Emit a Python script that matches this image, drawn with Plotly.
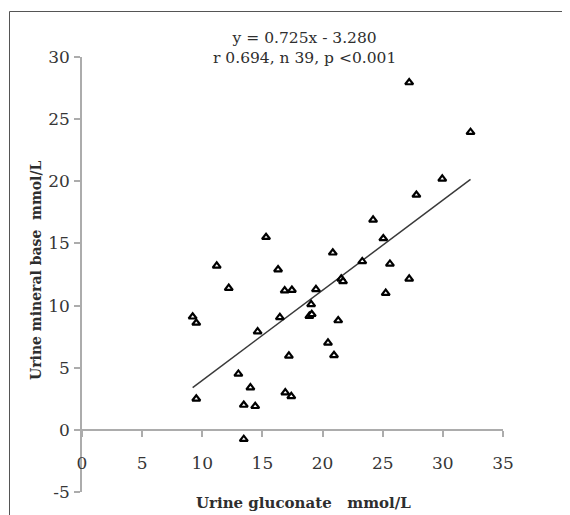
import plotly.graph_objects as go

# Data
gluconate = [9.2, 9.5, 9.5, 11.2, 12.2, 13.0, 13.45, 13.45, 14.0, 14.4,
             14.6, 15.3, 16.3, 16.45, 16.85, 16.9, 17.2, 17.4, 17.45, 18.9,
             19.05, 19.1, 19.45, 20.45, 20.85, 20.95, 21.3, 21.55, 21.7, 23.3,
             24.2, 25.05, 25.25, 25.6, 27.2, 27.2, 27.8, 29.95, 32.3]
mineral_base = [9.1, 8.6, 2.5, 13.2, 11.4, 4.5, 2.0, -0.75, 3.4, 1.9,
                7.9, 15.5, 12.9, 9.05, 11.2, 3.0, 5.95, 2.7, 11.25, 9.15,
                10.1, 9.3, 11.3, 7.0, 14.25, 6.0, 8.8, 12.15, 11.95, 13.55,
                16.9, 15.4, 11.0, 13.35, 12.15, 27.95, 18.9, 20.2, 23.95]
fit_x = [9.2, 32.3]
fit_y = [3.4, 20.15]
x_ticks = [0, 5, 10, 15, 20, 25, 30, 35]
x_tick_labels = ["0", "5", "10", "15", "20", "25", "30", "35"]
y_ticks = [-5, 0, 5, 10, 15, 20, 25, 30]
y_tick_labels = ["-5", "0", "5", "10", "15", "20", "25", "30"]
equation_text = "y = 0.725x - 3.280<br>r 0.694, n 39, p <0.001"
x_title = "Urine gluconate   mmol/L"
y_title = "Urine mineral base  mmol/L"

FONT = "DejaVu Serif"
AX = "#acacac"
TXT = "#363636"

# Page body has an 8px margin, so the figure is 8px smaller than the window
W, H = 562, 507
L, T = 74, 49
PW, PH = 421, 435

fig = go.Figure()
fig.add_trace(go.Scatter(x=fit_x, y=fit_y, mode="lines",
                         line=dict(color="#3a3a3a", width=1.5),
                         hoverinfo="skip", showlegend=False))
fig.add_trace(go.Scatter(x=gluconate, y=mineral_base, mode="markers",
                         marker=dict(symbol="triangle-up", size=7, color="white",
                                     line=dict(color="black", width=2.2)),
                         showlegend=False))

fig.update_layout(
    width=W, height=H,
    margin=dict(l=L, r=W - L - PW, t=T, b=H - T - PH, pad=0),
    paper_bgcolor="white", plot_bgcolor="white",
    font=dict(family=FONT, size=15, color=TXT),
    xaxis=dict(range=[0, 35], tickvals=x_ticks, ticktext=x_tick_labels,
               showgrid=False, zeroline=False,
               showline=True, linecolor=AX, linewidth=1.5,
               ticks="outside", ticklen=6, tickcolor=AX, tickwidth=1.5,
               anchor="free", position=5 / 35, ticklabelstandoff=12,
               automargin=False,
               tickfont=dict(family=FONT, size=17, color=TXT)),
    yaxis=dict(range=[-5, 30], tickvals=y_ticks, ticktext=y_tick_labels,
               showgrid=False, zeroline=False,
               showline=True, linecolor=AX, linewidth=1.5,
               ticks="outside", ticklen=6, tickcolor=AX, tickwidth=1.5,
               ticklabelstandoff=1, automargin=False,
               tickfont=dict(family=FONT, size=17, color=TXT)),
    annotations=[
        dict(text=equation_text, xref="paper", yref="paper",
             x=(304 - 8 - L) / PW, y=(T + PH - 40) / PH,
             xanchor="center", yanchor="middle", showarrow=False,
             font=dict(family=FONT, size=15.5, color="#2e2e2e")),
        dict(text="<b>" + y_title + "</b>", xref="paper", yref="paper",
             x=(36 - 8 - L) / PW, y=(T + PH - 262) / PH, textangle=-90,
             xanchor="center", yanchor="middle",
             showarrow=False, font=dict(family=FONT, size=14, color="#2e2e2e")),
        dict(text="<b>" + x_title + "</b>", xref="paper", yref="paper",
             x=(303 - 8 - L) / PW, y=(T + PH - 495) / PH,
             xanchor="center", yanchor="middle",
             showarrow=False, font=dict(family=FONT, size=15, color="#2e2e2e")),
    ],
    shapes=[dict(type="rect", xref="paper", yref="paper",
                 x0=(1.5 - L) / PW, y0=-0.6, x1=1.6, y1=(T + PH - 3.5) / PH,
                 line=dict(color="#555555", width=1), layer="below")],
)

fig.write_html("out.html")
